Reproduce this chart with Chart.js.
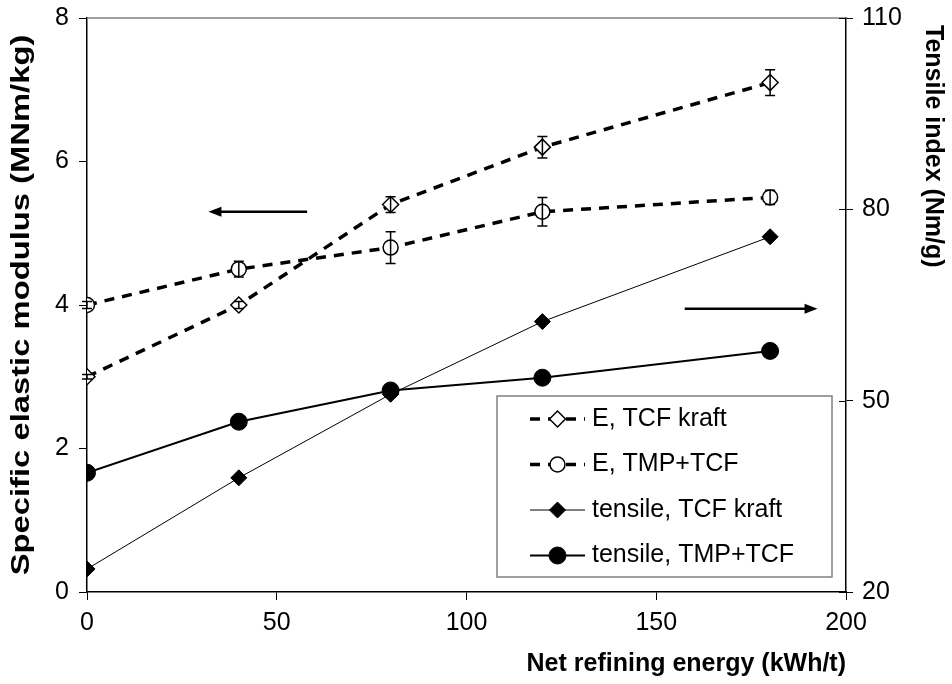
<!DOCTYPE html>
<html>
<head>
<meta charset="utf-8">
<script src="https://cdn.jsdelivr.net/npm/chart.js@4.4.1/dist/chart.umd.min.js"></script>
<style>
  html, body { margin: 0; padding: 0; background: #fff; }
  #wrap { width: 952px; height: 684px; }
</style>
</head>
<body>
<div id="wrap"><canvas id="chart" width="952" height="684"></canvas></div>
<script>
// refining energy (kWh/t)
const energy = [0, 40, 80, 120, 180];

// specific elastic modulus (MNm/kg), left axis, with +/- error
const eKraft = [3.0, 4.0, 5.4, 6.2, 7.1];
const eKraftErr = [0.03, 0.05, 0.11, 0.15, 0.18];
const eTmp = [4.0, 4.5, 4.8, 5.3, 5.5];
const eTmpErr = [0.05, 0.11, 0.22, 0.2, 0.1];

// tensile index (Nm/g), right axis
const tensileKraft = [23.6, 37.9, 51.0, 62.4, 75.7];
const tensileTmp = [38.7, 46.7, 51.6, 53.6, 57.8];

const seriesLabels = ['E, TCF kraft', 'E, TMP+TCF', 'tensile, TCF kraft', 'tensile, TMP+TCF'];
const leftTitle = 'Specific elastic modulus (MNm/kg)';
const rightTitle = 'Tensile index (Nm/g)';

const FONT = "'Liberation Sans', Arial, sans-serif";
const INK = '#000';

function pts(ys) {
  return energy.map((x, i) => ({ x, y: ys[i] }));
}

// error bars for the modulus series
const errorBars = {
  id: 'errorBars',
  afterDatasetsDraw(chart) {
    const { ctx, scales } = chart;
    const sets = [[eKraft, eKraftErr], [eTmp, eTmpErr]];
    ctx.save();
    ctx.strokeStyle = INK;
    ctx.lineWidth = 1.5;
    sets.forEach(([vals, errs]) => {
      vals.forEach((v, i) => {
        const x = scales.x.getPixelForValue(energy[i]);
        const yt = scales.y.getPixelForValue(v + errs[i]);
        const yb = scales.y.getPixelForValue(v - errs[i]);
        ctx.beginPath();
        ctx.moveTo(x, yt); ctx.lineTo(x, yb);
        ctx.moveTo(x - 5, yt); ctx.lineTo(x + 5, yt);
        ctx.moveTo(x - 5, yb); ctx.lineTo(x + 5, yb);
        ctx.stroke();
      });
    });
    ctx.restore();
  }
};

// frame bits, axis arrows, vertical titles and the boxed legend
const decorations = {
  id: 'decorations',
  afterDraw(chart) {
    const { ctx, chartArea: a, scales } = chart;
    ctx.save();

    // grey top border
    ctx.strokeStyle = '#808080';
    ctx.lineWidth = 1.5;
    ctx.beginPath();
    ctx.moveTo(a.left, a.top); ctx.lineTo(a.right, a.top);
    ctx.stroke();

    // right axis ticks cross the axis line
    ctx.strokeStyle = INK;
    ctx.lineWidth = 1;
    scales.y2.ticks.forEach(t => {
      const y = Math.round(scales.y2.getPixelForValue(t.value)) + 0.5;
      ctx.beginPath();
      ctx.moveTo(a.right - 7, y); ctx.lineTo(a.right, y);
      ctx.stroke();
    });

    ctx.fillStyle = INK;
    ctx.textBaseline = 'middle';

    // left axis title, stretched along its length
    ctx.save();
    ctx.translate(22, (a.top + a.bottom) / 2);
    ctx.rotate(-Math.PI / 2);
    ctx.scale(1.26, 1);
    ctx.font = 'bold 26px ' + FONT;
    ctx.textAlign = 'center';
    ctx.fillText(leftTitle, 0, 0);
    ctx.restore();

    // right axis title, reading downwards from near the top
    ctx.save();
    ctx.translate(scales.y2.right - 19, a.top + 7);
    ctx.rotate(Math.PI / 2);
    ctx.font = 'bold 25px ' + FONT;
    ctx.textAlign = 'left';
    ctx.fillText(rightTitle, 0, 0);
    ctx.restore();

    // arrows pointing at the axis each group belongs to
    const arrow = (x0, x1, y) => {
      const dir = Math.sign(x1 - x0);
      ctx.lineWidth = 2.5;
      ctx.beginPath();
      ctx.moveTo(x0, y); ctx.lineTo(x1 - dir * 10, y);
      ctx.stroke();
      ctx.beginPath();
      ctx.moveTo(x1, y);
      ctx.lineTo(x1 - dir * 13, y - 5);
      ctx.lineTo(x1 - dir * 13, y + 5);
      ctx.closePath();
      ctx.fill();
    };
    arrow(scales.x.getPixelForValue(58), scales.x.getPixelForValue(32), scales.y.getPixelForValue(5.3));
    arrow(scales.x.getPixelForValue(157.5), scales.x.getPixelForValue(192.5), scales.y2.getPixelForValue(64.4));

    // legend box
    const bx = a.right - 349, by = a.bottom - 196, bw = 335, bh = 181;
    ctx.fillStyle = '#fff';
    ctx.fillRect(bx, by, bw, bh);
    ctx.strokeStyle = '#808080';
    ctx.lineWidth = 1.5;
    ctx.strokeRect(bx, by, bw, bh);

    ctx.font = '25px ' + FONT;
    ctx.textAlign = 'left';
    chart.data.datasets.forEach((ds, i) => {
      const cy = by + 23 + i * 45.5;
      const x0 = bx + 33, x1 = bx + 88, cx = (x0 + x1) / 2;
      ctx.save();
      ctx.strokeStyle = ds.borderColor;
      ctx.lineWidth = ds.borderWidth;
      ctx.setLineDash(ds.borderDash || []);
      ctx.beginPath();
      ctx.moveTo(x0, cy); ctx.lineTo(x1, cy);
      ctx.stroke();
      ctx.restore();
      ctx.save();
      ctx.fillStyle = ds.pointBackgroundColor;
      ctx.strokeStyle = ds.pointBorderColor;
      ctx.lineWidth = ds.pointBorderWidth;
      Chart.helpers.drawPoint(ctx, {
        pointStyle: ds.pointStyle,
        radius: ds.pointRadius,
        rotation: 0,
        borderWidth: ds.pointBorderWidth
      }, cx, cy);
      ctx.restore();
      ctx.fillStyle = INK;
      ctx.fillText(ds.label, x1 + 7, cy);
    });
    ctx.restore();
  }
};

// fixed axis sizes, and no extra room for the end tick labels
const fixWidth = w => s => { s.width = w; s.paddingTop = 0; s.paddingBottom = 0; };

const dashed = { borderColor: INK, borderWidth: 3.5, borderDash: [10, 8], pointBorderColor: INK, pointBackgroundColor: '#fff', pointBorderWidth: 1.5, pointRadius: 8 };

new Chart(document.getElementById('chart'), {
  type: 'line',
  data: {
    datasets: [
      { ...dashed, label: seriesLabels[0], data: pts(eKraft), yAxisID: 'y', pointStyle: 'rectRot' },
      { ...dashed, label: seriesLabels[1], data: pts(eTmp), yAxisID: 'y', pointStyle: 'circle', pointRadius: 7.5 },
      { label: seriesLabels[2], data: pts(tensileKraft), yAxisID: 'y2', borderColor: INK, borderWidth: 1,
        pointStyle: 'rectRot', pointRadius: 8, pointBackgroundColor: INK, pointBorderColor: INK, pointBorderWidth: 1 },
      { label: seriesLabels[3], data: pts(tensileTmp), yAxisID: 'y2', borderColor: INK, borderWidth: 2,
        pointStyle: 'circle', pointRadius: 8.5, pointBackgroundColor: INK, pointBorderColor: INK, pointBorderWidth: 1 }
    ]
  },
  options: {
    responsive: false,
    animation: false,
    layout: { padding: { top: 18, left: 0, right: 0, bottom: 0 } },
    plugins: { legend: { display: false }, tooltip: { enabled: false } },
    elements: { line: { tension: 0 } },
    scales: {
      x: {
        type: 'linear', min: 0, max: 200,
        ticks: { stepSize: 50, color: INK, font: { family: FONT, size: 25 }, padding: 8, maxRotation: 0 },
        grid: { drawOnChartArea: false, tickLength: 8, color: INK, lineWidth: 1 },
        border: { color: INK, width: 1.5 },
        title: { display: true, text: 'Net refining energy (kWh/t)', align: 'end', color: INK,
          font: { family: FONT, size: 25, weight: 'bold' }, padding: { top: 0, bottom: 5 } },
        afterFit: s => { s.height = 92; s.paddingLeft = 0; s.paddingRight = 0; }
      },
      y: {
        position: 'left', min: 0, max: 8,
        ticks: { stepSize: 2, color: INK, font: { family: FONT, size: 25 }, padding: 10 },
        grid: { drawOnChartArea: false, tickLength: 8, color: INK, lineWidth: 1 },
        border: { color: INK, width: 1.5 },
        afterFit: fixWidth(87)
      },
      y2: {
        position: 'right', min: 20, max: 110,
        ticks: { stepSize: 30, color: INK, font: { family: FONT, size: 25 }, padding: 9 },
        grid: { drawOnChartArea: false, tickLength: 7, color: INK, lineWidth: 1 },
        border: { color: INK, width: 1.5 },
        afterFit: fixWidth(106)
      }
    }
  },
  plugins: [errorBars, decorations]
});
</script>
</body>
</html>
